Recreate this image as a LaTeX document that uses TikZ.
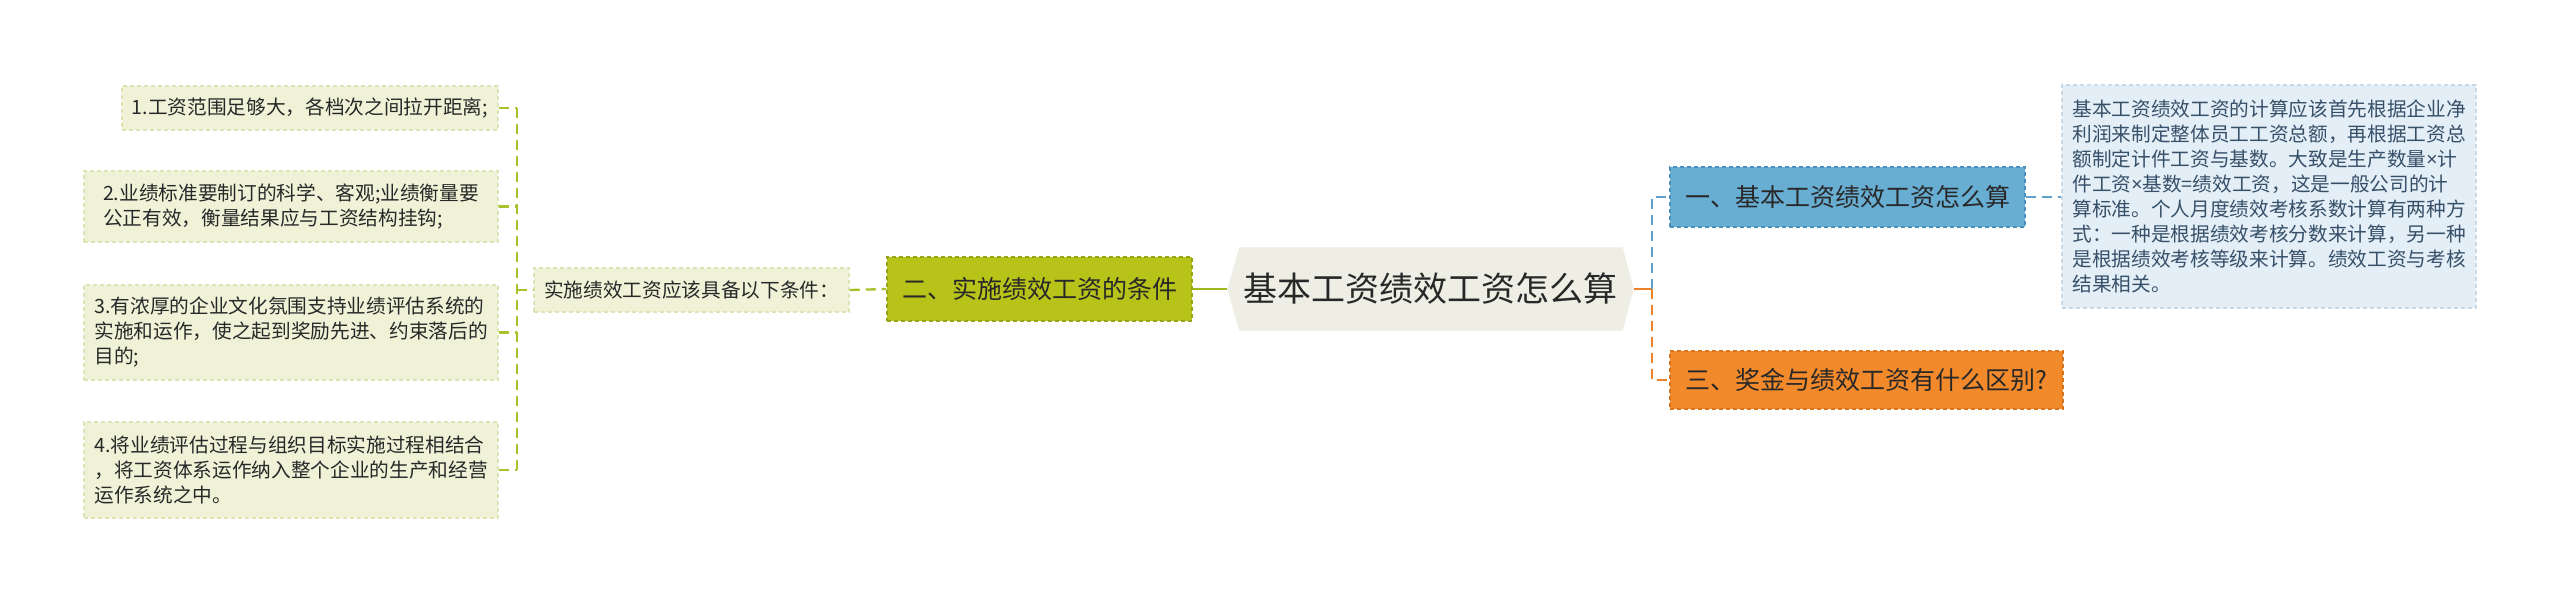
\documentclass[tikz,border=0pt]{standalone}
\usepackage{fontspec}
\newfontfamily\cjk{Noto Sans CJK SC}
\newfontfamily\lat{Noto Sans}
\usetikzlibrary{backgrounds}
\definecolor{leaffill}{RGB}{240,242,216}
\definecolor{leafline}{RGB}{222,226,180}
\definecolor{greenfill}{RGB}{184,195,26}
\definecolor{greenline}{RGB}{150,165,20}
\definecolor{rootfill}{RGB}{238,238,229}
\definecolor{bluefill}{RGB}{104,173,210}
\definecolor{blueline}{RGB}{75,145,190}
\definecolor{orangefill}{RGB}{242,138,44}
\definecolor{orangeline}{RGB}{215,115,25}
\definecolor{descfill}{RGB}{227,238,246}
\definecolor{descline}{RGB}{200,218,232}
\definecolor{desctext}{RGB}{55,80,105}
\definecolor{gconn}{RGB}{170,192,45}
\definecolor{gsolid}{RGB}{160,180,30}
\definecolor{bconn}{RGB}{95,160,205}
\definecolor{oconn}{RGB}{235,130,40}
\definecolor{txt}{RGB}{40,40,40}
\begin{document}
\begin{tikzpicture}[x=0.3pt,y=-0.3pt,
  box/.style={draw, dash pattern=on 1.2pt off 0.9pt, line width=0.45pt, inner sep=0pt, align=left, text=txt},
  small/.style={font=\cjk\fontsize{5.9}{7.5}\selectfont},
  medium/.style={font=\cjk\fontsize{7.5}{9}\selectfont},
  leaf/.style={box, small, fill=leaffill, draw=leafline},
  conn/.style={line width=0.7pt, dash pattern=on 3pt off 1.8pt},
]
\useasboundingbox (0,0) rectangle (2560,603);

% left leaves
\node[leaf, minimum width=112.8pt, minimum height=13.2pt] (l1) at (310,108) {1.工资范围足够大，各档次之间拉开距离;};
\node[leaf, minimum width=124.2pt, minimum height=21.3pt] (l2) at (291,206.5) {2.业绩标准要制订的科学、客观;业绩衡量要\\公正有效，衡量结果应与工资结构挂钩;};
\node[leaf, minimum width=124.2pt, minimum height=28.5pt] (l3) at (291,332.5) {3.有浓厚的企业文化氛围支持业绩评估系统的\\实施和运作，使之起到奖励先进、约束落后的\\目的;};
\node[leaf, minimum width=124.2pt, minimum height=28.8pt] (l4) at (291,470) {4.将业绩评估过程与组织目标实施过程相结合\\，将工资体系运作纳入整个企业的生产和经营\\运作系统之中。};

\node[leaf, minimum width=94.5pt, minimum height=13.2pt] (mid) at (691.5,290) {实施绩效工资应该具备以下条件：};

\node[box, medium, fill=greenfill, draw=greenline, minimum width=91.5pt, minimum height=19.2pt] (green) at (1039.5,289) {二、实施绩效工资的条件};

\node[inner sep=0pt, text=txt, font=\cjk\fontsize{10.2}{12}\selectfont, minimum width=121.5pt, minimum height=24.6pt] (root) at (1430.5,289) {基本工资绩效工资怎么算};
\begin{scope}[on background layer]
\fill[white] (0,0) rectangle (2560,603);
\fill[rootfill] (root.west) -- ([xshift=3.6pt]root.north west) -- ([xshift=-3.3pt]root.north east) -- (root.east) -- ([xshift=-3.3pt]root.south east) -- ([xshift=3.6pt]root.south west) -- cycle;
\end{scope}

\node[box, medium, fill=bluefill, draw=blueline, minimum width=106.5pt, minimum height=18pt] (blue) at (1847.5,197) {一、基本工资绩效工资怎么算};
\node[box, medium, fill=orangefill, draw=orangeline, minimum width=117.9pt, minimum height=17.4pt] (orange) at (1866.5,380) {三、奖金与绩效工资有什么区别?};

\node[box, small, fill=descfill, draw=descline, text=desctext, minimum width=124.2pt, minimum height=66.9pt] (desc) at (2269,196.5) {基本工资绩效工资的计算应该首先根据企业净\\利润来制定整体员工工资总额，再根据工资总\\额制定计件工资与基数。大致是生产数量{\lat ×}计\\件工资{\lat ×}基数=绩效工资，这是一般公司的计\\算标准。个人月度绩效考核系数计算有两种方\\式：一种是根据绩效考核分数来计算，另一种\\是根据绩效考核等级来计算。绩效工资与考核\\结果相关。};

% junctions
\coordinate (lj) at (517,290);
\coordinate (rj) at (1652,289);

% left connectors
\draw[conn, gconn] (l1.east -| lj) -- (l4.east -| lj);
\draw[conn, gconn] (l1.east) -- (l1.east -| lj);
\draw[conn, gconn] (l2.east) -- (l2.east -| lj);
\draw[conn, gconn] (l3.east) -- (l3.east -| lj);
\draw[conn, gconn] (l4.east) -- (l4.east -| lj);
\draw[conn, gconn] (lj) -- (mid.west);
\draw[conn, gconn] (mid.east) -- (green.west);
\draw[line width=0.7pt, gsolid] (green.east) -- (root.west);

% right connectors
\draw[line width=0.7pt, oconn] (root.east) -- (rj);
\draw[conn, bconn] (rj) -- (rj |- blue.west) -- (blue.west);
\draw[conn, oconn] (rj) -- (rj |- orange.west) -- (orange.west);
\draw[conn, bconn] (blue.east) -- (blue.east -| desc.west);
\end{tikzpicture}
\end{document}
